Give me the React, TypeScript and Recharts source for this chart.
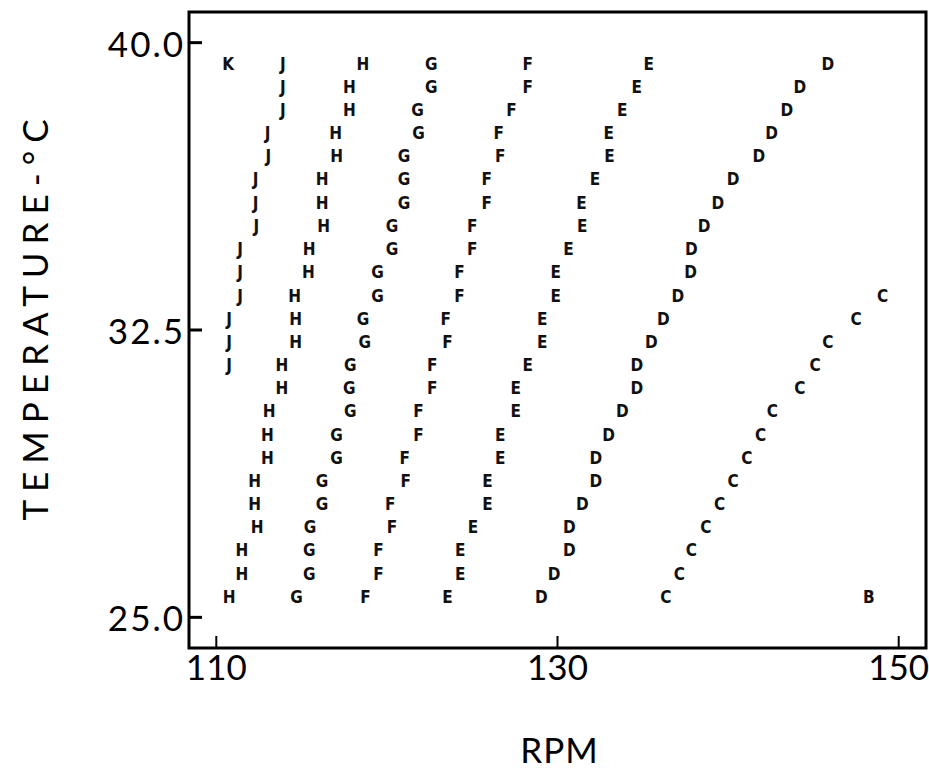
import React from "react";
import { ScatterChart, Scatter, XAxis, YAxis, ReferenceArea } from "recharts";

// temperature of each printed row, top to bottom
const temps = [
    39.45, 38.85, 38.24, 37.64, 37.03, 36.43, 35.82, 35.22, 34.61, 34.01, 33.4, 32.8,
    32.19, 31.59, 30.98, 30.38, 29.77, 29.17, 28.56, 27.96, 27.35, 26.75, 26.14, 25.54,
];

// rpm of each letter on those rows (null = no letter)
const rpmK = [110.7, null, null, null, null, null, null, null, null, null, null, null,
    null, null, null, null, null, null, null, null, null, null, null, null];
const rpmJ = [113.9, 113.9, 113.9, 113.0, 113.05, 112.3, 112.3, 112.35, 111.4, 111.4, 111.4, 110.75,
    110.75, 110.75, null, null, null, null, null, null, null, null, null, null];
const rpmH = [118.6, 117.8, 117.8, 117.0, 117.05, 116.2, 116.2, 116.3, 115.45, 115.4, 114.6, 114.65,
    114.65, 113.85, 113.85, 113.1, 113.0, 113.0, 112.25, 112.25, 112.4, 111.5, 111.5, 110.75];
const rpmG = [122.6, 122.6, 121.8, 121.85, 121.0, 121.0, 121.0, 120.3, 120.3, 119.45, 119.45, 118.6,
    118.7, 117.85, 117.8, 117.85, 117.05, 117.05, 116.2, 116.2, 115.5, 115.45, 115.45, 114.7];
const rpmF = [128.25, 128.25, 127.3, 126.55, 126.65, 125.85, 125.85, 125.0, 125.0, 124.25, 124.25, 123.45,
    123.55, 122.65, 122.65, 121.85, 121.85, 121.05, 121.1, 120.2, 120.3, 119.5, 119.5, 118.75];
const rpmE = [135.35, 134.65, 133.8, 133.0, 133.05, 132.2, 131.4, 131.45, 130.65, 129.9, 129.9, 129.1,
    129.1, 128.25, 127.55, 127.55, 126.65, 126.65, 125.9, 125.9, 125.05, 124.3, 124.3, 123.55];
const rpmD = [145.85, 144.2, 143.45, 142.55, 141.8, 140.3, 139.4, 138.6, 137.85, 137.8, 137.05, 136.2,
    135.5, 134.65, 134.65, 133.8, 133.0, 132.25, 132.25, 131.45, 130.7, 130.7, 129.8, 129.05];
const rpmC = [null, null, null, null, null, null, null, null, null, null, 149.05, 147.5,
    145.85, 145.1, 144.2, 142.6, 141.9, 141.1, 140.3, 139.5, 138.7, 137.85, 137.15, 136.35];
const rpmB = [null, null, null, null, null, null, null, null, null, null, null, null,
    null, null, null, null, null, null, null, null, null, null, null, 148.25];

const letters = ["K", "J", "H", "G", "F", "E", "D", "C", "B"];
const rpmSeries = [rpmK, rpmJ, rpmH, rpmG, rpmF, rpmE, rpmD, rpmC, rpmB];

const xTicks = [110, 130, 150];
const yTicks = [25, 32.5, 40];
const xDomain = [108.4, 151.6];
const yDomain = [24.2, 40.8];

const font = "Lato, 'DejaVu Sans', sans-serif";

function toPoints(rpms: (number | null)[]) {
    let pts: any[] = [];
    rpms.forEach((r, i) => {
        if (r !== null) pts.push({ rpm: r, temp: temps[i] });
    });
    return pts;
}

const letterShape = (letter: string) => (props: any) => (
    <text
        x={props.cx}
        y={props.cy}
        textAnchor="middle"
        dominantBaseline="central"
        fontFamily="'DejaVu Sans Condensed', 'DejaVu Sans', sans-serif"
        fontWeight="bold"
        fontSize={17}
        fill="#111"
    >
        {letter}
    </text>
);

const YTick = (props: any) => {
    const { x, y, payload } = props;
    return (
        <g>
            <line x1={x} x2={x + 13} y1={y} y2={y} stroke="#000" strokeWidth={3} />
            <text x={x - 4} y={y} textAnchor="end" dominantBaseline="central"
                fontFamily={font} fontSize={35} letterSpacing={2} fill="#000">
                {Number(payload.value).toFixed(1)}
            </text>
        </g>
    );
};

const XTick = (props: any) => {
    const { x, y, payload } = props;
    return (
        <g>
            <line x1={x} x2={x} y1={y} y2={y - 12} stroke="#000" strokeWidth={2} />
            <text x={x} y={y + 32} textAnchor="middle" fontFamily={font} fontSize={35} fill="#000">
                {payload.value}
            </text>
        </g>
    );
};

export default function App() {
    return (
        <div style={{ position: "absolute", left: 0, top: 0 }}>
            <ScatterChart width={929} height={774} margin={{ top: 12, right: 3, left: 0, bottom: 0 }}>
                <XAxis
                    type="number"
                    dataKey="rpm"
                    domain={xDomain}
                    ticks={xTicks}
                    allowDataOverflow
                    axisLine={false}
                    tickLine={false}
                    tickSize={0}
                    tickMargin={0}
                    height={126}
                    tick={<XTick />}
                    label={{
                        content: (p: any) => (
                            <text x={p.viewBox.x + p.viewBox.width / 2 + 2} y={p.viewBox.y + 115}
                                textAnchor="middle" fontFamily={font} fontSize={35} letterSpacing={1} fill="#000">
                                RPM
                            </text>
                        ),
                    }}
                />
                <YAxis
                    type="number"
                    dataKey="temp"
                    domain={yDomain}
                    ticks={yTicks}
                    allowDataOverflow
                    axisLine={false}
                    tickLine={false}
                    tickSize={0}
                    tickMargin={0}
                    width={189}
                    tick={<YTick />}
                    label={{
                        content: (p: any) => {
                            const cx = 34;
                            const cy = p.viewBox.y + p.viewBox.height / 2 - 14;
                            return (
                                <text x={cx} y={cy} transform={`rotate(-90 ${cx} ${cy})`}
                                    textAnchor="middle" dominantBaseline="central"
                                    fontFamily={font} fontSize={35} letterSpacing={8} fill="#000">
                                    TEMPERATURE-°C
                                </text>
                            );
                        },
                    }}
                />
                <ReferenceArea x1={xDomain[0]} x2={xDomain[1]} y1={yDomain[0]} y2={yDomain[1]}
                    fill="none" stroke="#000" strokeWidth={3} fillOpacity={0} />
                {letters.map((l, i) => (
                    <Scatter
                        key={l}
                        data={toPoints(rpmSeries[i])}
                        shape={letterShape(l)}
                        isAnimationActive={false}
                    />
                ))}
            </ScatterChart>
        </div>
    );
}
